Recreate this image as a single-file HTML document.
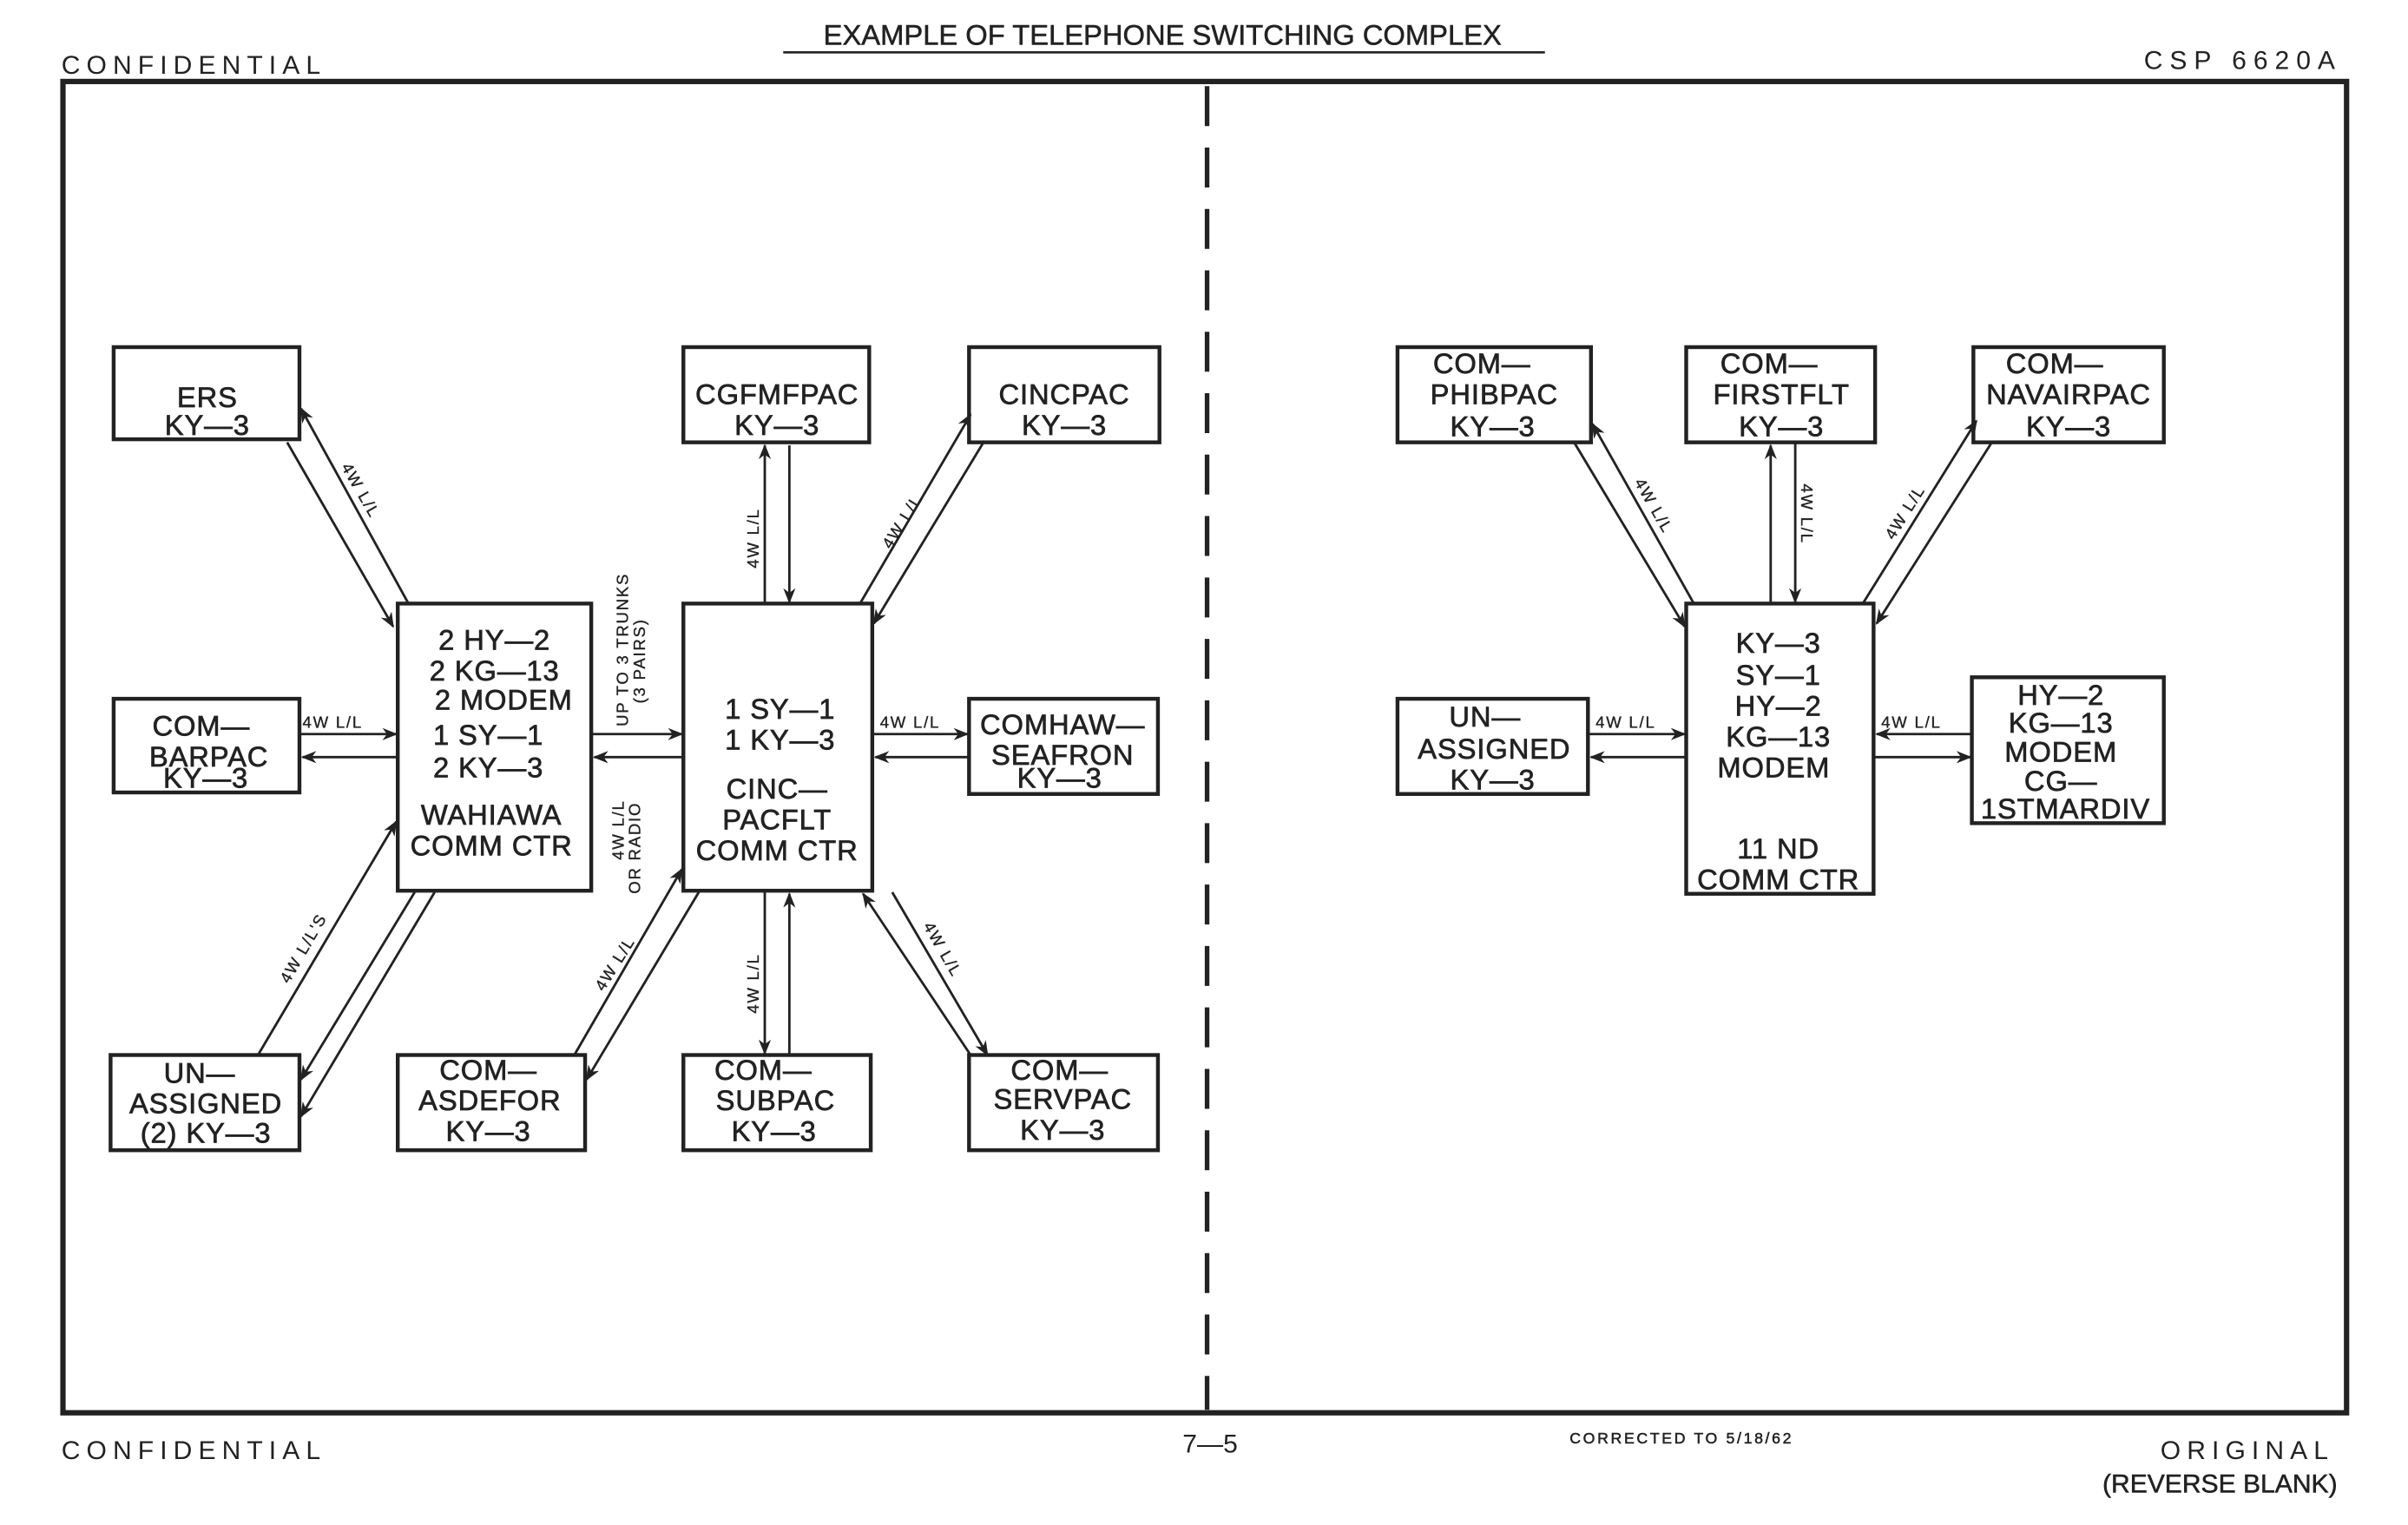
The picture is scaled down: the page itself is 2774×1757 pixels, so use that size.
<!DOCTYPE html>
<html><head><meta charset="utf-8"><style>
html,body{margin:0;padding:0;background:#fff;}
svg{display:block;}
text{font-family:"Liberation Sans",sans-serif;fill:#222;}
.b{font-size:18.5px;text-anchor:middle;stroke:#222;stroke-width:0.4;letter-spacing:0.5px;}
.s{font-size:10.5px;letter-spacing:1px;stroke:#222;stroke-width:0.2;}
</style></head><body>
<svg width="2774" height="1757" viewBox="0 0 1568 993" xmlns="http://www.w3.org/2000/svg">
<defs>
<marker id="a" markerWidth="10" markerHeight="8" refX="9" refY="4" orient="auto" markerUnits="userSpaceOnUse">
<path d="M0,0 L10,4 L0,8 L3,4 z" fill="#222"/></marker>
</defs>
<rect width="1568" height="993" fill="#fff"/>
<text x="757" y="29" font-size="18.5" text-anchor="middle" stroke="#222" stroke-width="0.3">EXAMPLE OF TELEPHONE SWITCHING COMPLEX</text>
<line x1="510" y1="34" x2="1006" y2="34" stroke="#222" stroke-width="1.5"/>
<text x="40" y="48" font-size="17" letter-spacing="4">CONFIDENTIAL</text>
<text x="1525" y="45" font-size="17" letter-spacing="4.5" text-anchor="end">CSP 6620A</text>
<rect x="41" y="53" width="1487" height="867" fill="none" stroke="#222" stroke-width="3.5"/>
<line x1="786" y1="56" x2="786" y2="918" stroke="#222" stroke-width="3" stroke-dasharray="26,14"/>
<text x="40" y="950" font-size="17" letter-spacing="4">CONFIDENTIAL</text>
<text x="788" y="946" font-size="17" text-anchor="middle">7—5</text>
<text x="1095" y="940" font-size="10" text-anchor="middle" letter-spacing="1.5" stroke="#222" stroke-width="0.3">CORRECTED TO 5/18/62</text>
<text x="1520" y="950" font-size="17" letter-spacing="4" text-anchor="end">ORIGINAL</text>
<text x="1522" y="972" font-size="17" text-anchor="end" stroke="#222" stroke-width="0.3">(REVERSE BLANK)</text>

<g fill="none" stroke="#222" stroke-width="2.5">
<rect x="74" y="226" width="121" height="60"/>
<rect x="445" y="226" width="121" height="62"/>
<rect x="631" y="226" width="124" height="62"/>
<rect x="259" y="393" width="126" height="187"/>
<rect x="445" y="393" width="123" height="187"/>
<rect x="74" y="455" width="121" height="61"/>
<rect x="631" y="455" width="123" height="62"/>
<rect x="72" y="687" width="123" height="62"/>
<rect x="259" y="687" width="122" height="62"/>
<rect x="445" y="687" width="122" height="62"/>
<rect x="631" y="687" width="123" height="62"/>
<rect x="910" y="226" width="126" height="62"/>
<rect x="1098" y="226" width="123" height="62"/>
<rect x="1285" y="226" width="124" height="62"/>
<rect x="1098" y="393" width="122" height="189"/>
<rect x="910" y="455" width="124" height="62"/>
<rect x="1284" y="441" width="125" height="95"/>
</g>

<g class="b">
<text x="135" y="265">ERS</text><text x="135" y="283">KY—3</text>
<text x="506" y="263">CGFMFPAC</text><text x="506" y="283">KY—3</text>
<text x="693" y="263">CINCPAC</text><text x="693" y="283">KY—3</text>
<text x="322" y="423">2 HY—2</text><text x="322" y="443">2 KG—13</text><text x="328" y="462">2 MODEM</text>
<text x="318" y="485">1 SY—1</text><text x="318" y="506">2 KY—3</text>
<text x="320" y="537">WAHIAWA</text><text x="320" y="557">COMM CTR</text>
<text x="508" y="468">1 SY—1</text><text x="508" y="488">1 KY—3</text>
<text x="506" y="520">CINC—</text><text x="506" y="540">PACFLT</text><text x="506" y="560">COMM CTR</text>
<text x="131" y="479">COM—</text><text x="136" y="499">BARPAC</text><text x="134" y="513">KY—3</text>
<text x="692" y="478">COMHAW—</text><text x="692" y="498">SEAFRON</text><text x="690" y="513">KY—3</text>
<text x="130" y="705">UN—</text><text x="134" y="725">ASSIGNED</text><text x="134" y="744">(2)  KY—3</text>
<text x="318" y="703">COM—</text><text x="319" y="723">ASDEFOR</text><text x="318" y="743">KY—3</text>
<text x="497" y="703">COM—</text><text x="505" y="723">SUBPAC</text><text x="504" y="743">KY—3</text>
<text x="690" y="703">COM—</text><text x="692" y="722">SERVPAC</text><text x="692" y="742">KY—3</text>
<text x="965" y="243">COM—</text><text x="973" y="263">PHIBPAC</text><text x="972" y="284">KY—3</text>
<text x="1152" y="243">COM—</text><text x="1160" y="263">FIRSTFLT</text><text x="1160" y="284">KY—3</text>
<text x="1338" y="243">COM—</text><text x="1347" y="263">NAVAIRPAC</text><text x="1347" y="284">KY—3</text>
<text x="1158" y="425">KY—3</text><text x="1158" y="446">SY—1</text><text x="1158" y="466">HY—2</text><text x="1158" y="486">KG—13</text><text x="1155" y="506">MODEM</text>
<text x="1158" y="559">11 ND</text><text x="1158" y="579">COMM CTR</text>
<text x="967" y="473">UN—</text><text x="973" y="494">ASSIGNED</text><text x="972" y="514">KY—3</text>
<text x="1342" y="459">HY—2</text><text x="1342" y="477">KG—13</text><text x="1342" y="496">MODEM</text><text x="1342" y="515">CG—</text><text x="1345" y="533">1STMARDIV</text>
</g>

<g stroke="#222" stroke-width="1.6" fill="none" marker-end="url(#a)">
<line x1="266" y1="393" x2="196" y2="266"/>
<line x1="187" y1="288" x2="256" y2="408"/>
<line x1="498" y1="393" x2="498" y2="290"/>
<line x1="514" y1="290" x2="514" y2="392"/>
<line x1="560" y1="393" x2="632" y2="270"/>
<line x1="641" y1="287" x2="569" y2="406"/>
<line x1="196" y1="478" x2="258" y2="478"/>
<line x1="258" y1="493" x2="197" y2="493"/>
<line x1="386" y1="478" x2="444" y2="478"/>
<line x1="444" y1="493" x2="387" y2="493"/>
<line x1="569" y1="478" x2="630" y2="478"/>
<line x1="630" y1="493" x2="570" y2="493"/>
<line x1="168" y1="687" x2="258" y2="535"/>
<line x1="270" y1="581" x2="196" y2="703"/>
<line x1="283" y1="581" x2="196" y2="727"/>
<line x1="374" y1="687" x2="444" y2="566"/>
<line x1="455" y1="581" x2="382" y2="703"/>
<line x1="514" y1="687" x2="514" y2="582"/>
<line x1="498" y1="581" x2="498" y2="686"/>
<line x1="632" y1="687" x2="562" y2="582"/>
<line x1="581" y1="581" x2="643" y2="687"/>
<line x1="1103" y1="393" x2="1037" y2="276"/>
<line x1="1025" y1="288" x2="1097" y2="408"/>
<line x1="1153" y1="393" x2="1153" y2="290"/>
<line x1="1169" y1="289" x2="1169" y2="392"/>
<line x1="1213" y1="393" x2="1287" y2="274"/>
<line x1="1297" y1="288" x2="1222" y2="406"/>
<line x1="1035" y1="478" x2="1097" y2="478"/>
<line x1="1097" y1="493" x2="1036" y2="493"/>
<line x1="1284" y1="478" x2="1222" y2="478"/>
<line x1="1221" y1="493" x2="1283" y2="493"/>
</g>

<g class="s">
<text x="197" y="474">4W L/L</text>
<text x="573" y="474">4W L/L</text>
<text x="1039" y="474">4W L/L</text>
<text x="1225" y="474">4W L/L</text>
<text transform="translate(222,304) rotate(60)">4W L/L</text>
<text transform="translate(494,370) rotate(-90)">4W L/L</text>
<text transform="translate(580,358) rotate(-58)">4W L/L</text>
<text transform="translate(409,473) rotate(-90)">UP TO 3 TRUNKS</text>
<text transform="translate(420,458) rotate(-90)">(3 PAIRS)</text>
<text transform="translate(406,560) rotate(-90)">4W L/L</text>
<text transform="translate(417,582) rotate(-90)">OR RADIO</text>
<text transform="translate(188,641) rotate(-60)">4W L/L'S</text>
<text transform="translate(393,646) rotate(-58)">4W L/L</text>
<text transform="translate(494,660) rotate(-90)">4W L/L</text>
<text transform="translate(601,603) rotate(60)">4W L/L</text>
<text transform="translate(1064,314) rotate(60)">4W L/L</text>
<text transform="translate(1173,315) rotate(90)">4W L/L</text>
<text transform="translate(1233,352) rotate(-58)">4W L/L</text>
</g>
</svg>
</body></html>
